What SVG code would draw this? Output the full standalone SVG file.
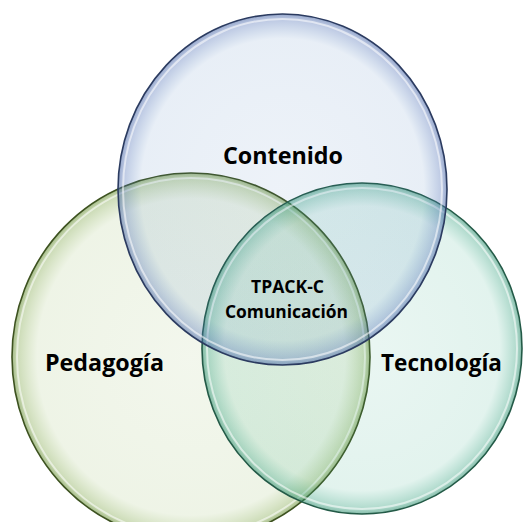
<svg xmlns="http://www.w3.org/2000/svg" width="523" height="522" viewBox="0 0 523 522">
  <defs>
    <radialGradient id="gBlue" cx="0.5" cy="0.5" r="0.5">
      <stop offset="0" stop-color="#4f81bd" stop-opacity="0.10"/>
      <stop offset="0.86" stop-color="#4f81bd" stop-opacity="0.13"/>
      <stop offset="0.97" stop-color="#4f6fb5" stop-opacity="0.38"/>
      <stop offset="1" stop-color="#3f5e9e" stop-opacity="0.55"/>
    </radialGradient>
    <radialGradient id="gGreen" cx="0.5" cy="0.5" r="0.5">
      <stop offset="0" stop-color="#8fb55a" stop-opacity="0.11"/>
      <stop offset="0.86" stop-color="#8fb55a" stop-opacity="0.15"/>
      <stop offset="0.97" stop-color="#7fa64a" stop-opacity="0.4"/>
      <stop offset="1" stop-color="#648a34" stop-opacity="0.6"/>
    </radialGradient>
    <radialGradient id="gTeal" cx="0.5" cy="0.5" r="0.5">
      <stop offset="0" stop-color="#3fb08c" stop-opacity="0.11"/>
      <stop offset="0.86" stop-color="#3fb08c" stop-opacity="0.15"/>
      <stop offset="0.97" stop-color="#35a07e" stop-opacity="0.4"/>
      <stop offset="1" stop-color="#2a8868" stop-opacity="0.58"/>
    </radialGradient>
  </defs>
  <style>
    .rim { stroke-width: 1.6; }
    .shine { fill: none; stroke: #ffffff; stroke-width: 2; stroke-opacity: 0.55; }
    .lbl { font-family: "Open Sans", "Liberation Sans", sans-serif; font-weight: bold; fill: #000000; text-anchor: middle; }
    .big { font-size: 24px; }
    .small { font-size: 17px; }
  </style>
  <rect width="523" height="522" fill="#ffffff"/>

  <g id="pedagogia">
    <ellipse cx="191" cy="357" rx="179" ry="184" fill="url(#gGreen)" stroke="#3d5220" class="rim"/>
    <ellipse cx="191" cy="357" rx="174" ry="179" class="shine"/>
  </g>

  <g id="tecnologia">
    <ellipse cx="362" cy="348.5" rx="160" ry="165.5" fill="url(#gTeal)" stroke="#235a47" class="rim"/>
    <ellipse cx="362" cy="348.5" rx="155" ry="160.5" class="shine"/>
  </g>

  <g id="contenido">
    <ellipse cx="282.5" cy="189.5" rx="164.5" ry="175.5" fill="url(#gBlue)" stroke="#2b3b60" class="rim"/>
    <ellipse cx="282.5" cy="189.5" rx="159.5" ry="170.5" class="shine"/>
  </g>

  <g id="labels">
    <text class="lbl big" x="283" y="164" textLength="120" lengthAdjust="spacingAndGlyphs">Contenido</text>
    <text class="lbl big" x="104.5" y="371" textLength="119" lengthAdjust="spacingAndGlyphs">Pedagogía</text>
    <text class="lbl big" x="441.5" y="371" textLength="121" lengthAdjust="spacingAndGlyphs">Tecnología</text>
  </g>

  <g id="tpack-c">
    <text class="lbl small" x="287.5" y="293" textLength="73" lengthAdjust="spacingAndGlyphs">TPACK-C</text>
    <text class="lbl small" x="286.5" y="318" textLength="123" lengthAdjust="spacingAndGlyphs">Comunicación</text>
  </g>
</svg>
